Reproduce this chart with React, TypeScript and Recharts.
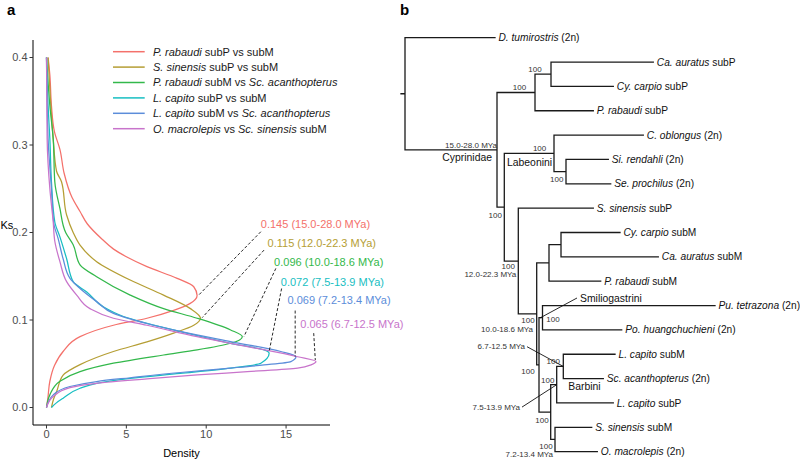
import React from 'react';
import { ComposedChart, Line, XAxis, YAxis, Scatter, Legend } from 'recharts';

const FONT = '"Liberation Sans", Arial, Helvetica, sans-serif';

// ---------------- Panel a : Ks density ----------------
const densityTicks = [0, 5, 10, 15];
const ksTicks = [0, 0.1, 0.2, 0.3, 0.4];

const seriesNames = [
  'P. rabaudi subP vs subM',
  'S. sinensis subP vs subM',
  'P. rabaudi subM vs Sc. acanthopterus',
  'L. capito subP vs subM',
  'L. capito subM vs Sc. acanthopterus',
  'O. macrolepis vs Sc. sinensis subM',
];
const seriesLegendParts: [string, boolean][][] = [
  [['P. rabaudi', true], [' subP vs subM', false]],
  [['S. sinensis', true], [' subP vs subM', false]],
  [['P. rabaudi', true], [' subM vs ', false], ['Sc. acanthopterus', true]],
  [['L. capito', true], [' subP vs subM', false]],
  [['L. capito', true], [' subM vs ', false], ['Sc. acanthopterus', true]],
  [['O. macrolepis', true], [' vs ', false], ['Sc. sinensis', true], [' subM', false]],
];
const seriesColors = ['#F4716B', '#B59E34', '#33B84B', '#17BEC2', '#5C8DDA', '#C874CB'];

// [density, Ks] pairs, ordered by Ks
const densityRabaudiP: [number, number][] = [
  [0, 0], [0.08, 0.01], [0.21, 0.03], [0.5, 0.048], [1.04, 0.064], [2.1, 0.081], [4.19, 0.094],
  [6.29, 0.102], [7.96, 0.111], [9.0, 0.119], [9.43, 0.128], [9.22, 0.138], [8.18, 0.1476],
  [6.29, 0.161], [5.03, 0.172], [4.2, 0.181], [3.5, 0.192], [2.55, 0.21], [2.1, 0.224],
  [1.6, 0.24], [1.1, 0.268], [0.84, 0.295], [0.5, 0.315], [0.31, 0.345], [0.21, 0.38], [0.1, 0.4],
];
const densitySinensisP: [number, number][] = [
  [0.31, 0], [0.45, 0.01], [0.63, 0.018], [1.04, 0.037], [2.1, 0.049], [4.19, 0.064], [6.29, 0.075],
  [7.96, 0.085], [9.22, 0.094], [9.64, 0.102], [9.01, 0.113], [7.33, 0.1285], [5.24, 0.1457],
  [3.14, 0.1667], [2.1, 0.1856], [1.67, 0.2], [1.26, 0.22], [0.94, 0.258], [0.63, 0.27],
  [0.42, 0.307], [0.21, 0.364], [0.1, 0.4],
];
const densityRabaudiM: [number, number][] = [
  [0, 0], [0.21, 0.0144], [0.84, 0.03], [2.1, 0.041], [4.19, 0.0506], [7.33, 0.06], [9.43, 0.0658],
  [11.53, 0.0734], [12.26, 0.081], [11.53, 0.0886], [9.43, 0.102], [7.33, 0.113], [5.24, 0.1285],
  [3.14, 0.1495], [2.1, 0.163], [1.67, 0.186], [1.2, 0.2], [0.84, 0.2275], [0.52, 0.258],
  [0.42, 0.307], [0.21, 0.345], [0, 0.4],
];
const densityCapitoP: [number, number][] = [
  [0.31, 0], [0.6, 0.005], [1.04, 0.0106], [2.1, 0.022], [3.14, 0.0277], [5.24, 0.0334], [8.38, 0.039],
  [11.53, 0.045], [13.42, 0.0506], [13.94, 0.062], [13.62, 0.0658], [11.53, 0.0734], [8.38, 0.0868],
  [6.29, 0.0962], [4.82, 0.104], [3.56, 0.115], [2.52, 0.132], [1.67, 0.1438], [1.26, 0.17],
  [0.84, 0.195], [0.52, 0.212], [0.31, 0.258], [0.21, 0.307], [0.1, 0.345], [0, 0.4],
];
const densityCapitoM: [number, number][] = [
  [0, 0], [0.42, 0.0144], [1.47, 0.024], [3.14, 0.0297], [5.24, 0.034], [8.38, 0.04], [11.53, 0.045],
  [13.62, 0.0486], [15.3, 0.0525], [15.62, 0.058], [14.67, 0.064], [11.53, 0.0753], [8.38, 0.087],
  [6.29, 0.096], [4.19, 0.1076], [3.14, 0.121], [2.1, 0.136], [1.47, 0.1476], [1.04, 0.17],
  [0.73, 0.193], [0.46, 0.21], [0.31, 0.25], [0.1, 0.307], [0, 0.4],
];
const densityMacrolepis: [number, number][] = [
  [0, 0], [0.42, 0.0125], [1.47, 0.0227], [3.14, 0.0277], [6.29, 0.0327], [9.43, 0.0372], [12.58, 0.041],
  [15.72, 0.045], [16.6, 0.049], [16.87, 0.0525], [15.72, 0.058], [12.58, 0.0696], [9.43, 0.081],
  [6.29, 0.094], [4.19, 0.102], [2.72, 0.113], [1.89, 0.1285], [1.26, 0.1438], [0.84, 0.1667],
  [0.52, 0.19], [0.42, 0.212], [0.21, 0.25], [0.04, 0.307], [0, 0.4],
];
const seriesCurves = [densityRabaudiP, densitySinensisP, densityRabaudiM, densityCapitoP, densityCapitoM, densityMacrolepis];

const peakLabels = [
  '0.145 (15.0-28.0 MYa)',
  '0.115 (12.0-22.3 MYa)',
  '0.096 (10.0-18.6 MYa)',
  '0.072 (7.5-13.9 MYa)',
  '0.069 (7.2-13.4 MYa)',
  '0.065 (6.7-12.5 MYa)',
];
// annotation anchors in data units [density, Ks]
const peakLabelAt: [number, number][] = [
  [13.42, 0.2092], [13.84, 0.1876], [14.25, 0.166], [14.67, 0.1438], [15.09, 0.1225], [15.89, 0.0951],
];
const peakLeaderFrom: [number, number][] = [
  [13.42, 0.2009], [13.62, 0.1799], [14.36, 0.159], [14.72, 0.136], [15.57, 0.1108], [16.73, 0.085],
];
const peakLeaderTo: [number, number][] = [
  [9.53, 0.1285], [9.75, 0.1027], [12.36, 0.081], [13.94, 0.0639], [15.57, 0.0582], [16.83, 0.0543],
];

const toXY = (pts: [number, number][]) => pts.map(([x, y]) => ({ x, y }));

const PeakText = (props: any) => {
  const { cx, cy, payload } = props;
  if (cx == null || cy == null) return null;
  return (
    <text x={cx} y={cy} dy="0.35em" fill={payload.color} fontSize={11} fontFamily={FONT}>
      {payload.label}
    </text>
  );
};

function LegendBox() {
  return (
    <svg width={250} height={100} style={{ display: 'block', overflow: 'visible' }}>
      {seriesLegendParts.map((parts, i) => {
        const y = 9.7 + 15.4 * i;
        return (
          <g key={i}>
            <line x1={8} x2={39.7} y1={y} y2={y} stroke={seriesColors[i]} strokeWidth={1.5} />
            <text x={48} y={y} dy="0.35em" fontSize={11} fontFamily={FONT} fill="#1a1a1a" style={{ whiteSpace: 'pre' }}>
              {parts.map(([t, it], j) => (
                <tspan key={j} fontStyle={it ? 'italic' : 'normal'}>{t}</tspan>
              ))}
            </text>
          </g>
        );
      })}
    </svg>
  );
}

function PanelA() {
  const labelData = peakLabels.map((label, i) => ({
    x: peakLabelAt[i][0],
    y: peakLabelAt[i][1],
    label,
    color: seriesColors[i],
  }));
  const tickStyle = { fill: '#4d4d4d', fontSize: 11, fontFamily: FONT };
  return (
    <ComposedChart width={410} height={460} margin={{ top: 40, right: 80, bottom: 0, left: 0 }} style={{ overflow: 'visible' }}>
      <XAxis
        type="number"
        dataKey="x"
        domain={[-0.845, 17.75]}
        ticks={densityTicks}
        height={35}
        tickSize={3.5}
        tickMargin={2}
        axisLine={{ stroke: '#000', strokeWidth: 1 }}
        tickLine={{ stroke: '#333', strokeWidth: 1 }}
        tick={tickStyle}
        label={{ value: 'Density', position: 'insideBottom', offset: 3, fill: '#000', fontSize: 11, fontFamily: FONT }}
      />
      <YAxis
        type="number"
        dataKey="y"
        domain={[-0.02, 0.42]}
        ticks={ksTicks}
        width={33}
        tickSize={3.5}
        tickMargin={2}
        axisLine={{ stroke: '#000', strokeWidth: 1 }}
        tickLine={{ stroke: '#333', strokeWidth: 1 }}
        tick={tickStyle}
        tickFormatter={(v: number) => v.toFixed(1)}
        label={{ value: 'Ks', position: 'insideLeft', offset: 0.5, dy: -7, fill: '#000', fontSize: 11, fontFamily: FONT }}
      />
      {seriesCurves.map((c, i) => (
        <Line
          key={'c' + i}
          data={toXY(c)}
          dataKey="y"
          name={seriesNames[i]}
          type="monotoneY"
          stroke={seriesColors[i]}
          strokeWidth={1.25}
          dot={false}
          activeDot={false}
          isAnimationActive={false}
        />
      ))}
      {peakLeaderFrom.map((f, i) => (
        <Line
          key={'l' + i}
          data={[{ x: f[0], y: f[1] }, { x: peakLeaderTo[i][0], y: peakLeaderTo[i][1] }]}
          dataKey="y"
          type="linear"
          stroke="#111"
          strokeWidth={0.9}
          strokeDasharray="3 2"
          dot={false}
          activeDot={false}
          legendType="none"
          isAnimationActive={false}
        />
      ))}
      <Scatter data={labelData} shape={PeakText} legendType="none" isAnimationActive={false} />
      <Legend
        layout="vertical"
        align="center"
        verticalAlign="middle"
        wrapperStyle={{ left: 105, top: 42, width: 250, height: 100 }}
        content={() => <LegendBox />}
      />
    </ComposedChart>
  );
}

// ---------------- Panel b : phylogeny ----------------
const tipItalic = [
  'D. tumirostris', 'Ca. auratus', 'Cy. carpio', 'P. rabaudi', 'C. oblongus', 'Si. rendahli',
  'Se. prochilus', 'S. sinensis', 'Cy. carpio', 'Ca. auratus', 'P. rabaudi', 'Pu. tetrazona',
  'Po. huangchuchieni', 'L. capito', 'Sc. acanthopterus', 'L. capito', 'S. sinensis', 'O. macrolepis',
];
const tipSuffix = [
  ' (2n)', ' subP', ' subP', ' subP', ' (2n)', ' (2n)',
  ' (2n)', ' subP', ' subM', ' subM', ' subM', ' (2n)',
  ' (2n)', ' subM', ' (2n)', ' subP', ' subM', ' (2n)',
];
// horizontal position of each tip (tree depth units)
const tipDepth = [95, 253.3, 213.3, 193.3, 243.3, 208.3, 210.7, 193.3, 220, 258.3, 200.7, 315, 221.7, 215, 203.3, 213.3, 191.7, 197.3];

const nodeIds = ['root', 'C1', 'A', 'A2', 'B', 'Lab', 'SS', 'D', 'E', 'F', 'F2', 'K', 'Smi', 'I', 'H', 'Bar', 'J'];
const nodeDepth = [5, 97, 135, 151, 104.3, 154, 166, 118.3, 136.7, 149, 161, 139, 142.5, 150.7, 156.7, 163.3, 155];
const nodeChildren = [
  ['t0', 'C1'], ['A', 'B'], ['A2', 't3'], ['t1', 't2'], ['Lab', 'D'], ['t4', 'SS'], ['t5', 't6'],
  ['t7', 'E'], ['F', 'K'], ['F2', 't10'], ['t8', 't9'], ['Smi', 'I'], ['t11', 't12'], ['H', 'J'],
  ['Bar', 't15'], ['t13', 't14'], ['t16', 't17'],
];
const rootStubDepth = 1;

const supportNodes = ['A2', 'A', 'Lab', 'SS', 'B', 'D', 'E', 'Smi', 'K', 'Bar', 'H', 'I', 'J'];
const supportValues = ['100', '100', '100', '100', '100', '100', '100', '100', '100', '100', '100', '100', '100'];
const dateNodes = ['C1', 'D', 'E', 'J'];
const dateValues = ['15.0-28.0 MYa', '12.0-22.3 MYa', '10.0-18.6 MYa', '7.2-13.4 MYa'];
const cladeNodes = ['C1', 'Lab', 'Bar'];
const cladeNames = ['Cyprinidae', 'Labeonini', 'Barbini'];
// pointer annotations: [from depth, from tip-row], target node
const pointerTexts = ['Smiliogastrini', '6.7-12.5 MYa', '7.5-13.9 MYa'];
const pointerFrom: [number, number][] = [[177, 10.69], [127, 12.69], [122, 15.17]];
const pointerTo: (string | [number, number])[] = [[140, 11.51], 'Bar', 'H'];

// layout offsets (px) for text relative to node
const supportOffset: Record<string, [number, number]> = {
  A2: [-16, -5], A: [-15.5, -5.6], Lab: [-14.4, -5], SS: [-9.3, 7.4], B: [-9, 7.7], D: [-10, 5],
  E: [-8.7, 6.6], Smi: [10.5, 1.5], K: [-11, 6.7], Bar: [-10, -5.5], H: [-9, -4.7], I: [-8.7, 7.8], J: [-9, 7],
};
const dateOffset: Record<string, [number, number]> = { C1: [0, -4.5], D: [-2, 13], E: [-3.7, 14.8], J: [-2, 14.5] };
const cladeOffset: Record<string, [number, number, string]> = {
  C1: [-5, 8, 'end'], Lab: [-47, 8.6, 'start'], Bar: [5, 20, 'start'],
};
const pointerTextStyle: [number, string, number][] = [[3, 'start', 10.4], [-2, 'end', 8], [-2, 'end', 8]];

function buildTree() {
  const pos: Record<string, { x: number; y: number }> = {};
  tipDepth.forEach((d, i) => (pos['t' + i] = { x: d, y: i }));
  const idx: Record<string, number> = {};
  nodeIds.forEach((id, i) => (idx[id] = i));
  const place = (id: string): number => {
    if (pos[id]) return pos[id].y;
    const i = idx[id];
    const kids = nodeChildren[i];
    const ys = kids.map(place);
    const y = (ys[0] + ys[ys.length - 1]) / 2;
    pos[id] = { x: nodeDepth[i], y };
    return y;
  };
  place('root');
  const path: { x: number; y: number | null }[] = [];
  const rp = pos['root'];
  path.push({ x: rootStubDepth, y: rp.y }, { x: rp.x, y: rp.y }, { x: rp.x, y: null });
  nodeIds.forEach((id, i) => {
    const p = pos[id];
    const kids = nodeChildren[i];
    const first = pos[kids[0]];
    const last = pos[kids[kids.length - 1]];
    path.push({ x: p.x, y: first.y }, { x: p.x, y: last.y }, { x: p.x, y: null });
    kids.forEach((k) => {
      const c = pos[k];
      path.push({ x: p.x, y: c.y }, { x: c.x, y: c.y }, { x: c.x, y: null });
    });
  });
  return { pos, path };
}

const TreeText = (props: any) => {
  const { cx, cy, payload } = props;
  if (cx == null || cy == null) return null;
  return (
    <text
      x={cx + payload.dx}
      y={cy + payload.dy}
      dy="0.35em"
      textAnchor={payload.anchor}
      fontSize={payload.size}
      fill={payload.color}
      fontFamily={FONT}
      style={{ whiteSpace: 'pre' }}
    >
      {payload.italic ? <tspan fontStyle="italic">{payload.italic}</tspan> : null}
      {payload.text ? <tspan>{payload.text}</tspan> : null}
    </text>
  );
};

function PanelB() {
  const { pos, path } = buildTree();
  const tipLabels = tipItalic.map((it, i) => ({
    x: tipDepth[i], y: i, italic: it, text: tipSuffix[i], dx: 3.5, dy: 0, anchor: 'start', size: 10.2, color: '#111',
  }));
  const supportLabels = supportNodes.map((n, i) => ({
    x: pos[n].x, y: pos[n].y, text: supportValues[i], dx: supportOffset[n][0], dy: supportOffset[n][1],
    anchor: 'middle', size: 8, color: '#333',
  }));
  const dateLabels = dateNodes.map((n, i) => ({
    x: pos[n].x, y: pos[n].y, text: dateValues[i], dx: dateOffset[n][0], dy: dateOffset[n][1],
    anchor: 'end', size: 8, color: '#333',
  }));
  const cladeLabels = cladeNodes.map((n, i) => ({
    x: pos[n].x, y: pos[n].y, text: cladeNames[i], dx: cladeOffset[n][0], dy: cladeOffset[n][1],
    anchor: cladeOffset[n][2], size: 10.4, color: '#111',
  }));
  const pointerLabels = pointerTexts.map((t, i) => ({
    x: pointerFrom[i][0], y: pointerFrom[i][1], text: t, dx: pointerTextStyle[i][0], dy: 0,
    anchor: pointerTextStyle[i][1], size: pointerTextStyle[i][2], color: i === 0 ? '#111' : '#333',
  }));
  const pointerLines = pointerFrom.map((f, i) => {
    const t = pointerTo[i];
    const to = typeof t === 'string' ? pos[t] : { x: t[0], y: t[1] };
    return [{ x: f[0], y: f[1] }, { x: to.x, y: to.y }];
  });
  const allText = [...tipLabels, ...supportLabels, ...dateLabels, ...cladeLabels, ...pointerLabels];
  return (
    <ComposedChart width={400} height={460} margin={{ top: 0, right: 0, bottom: 0, left: 0 }}>
      <XAxis type="number" dataKey="x" domain={[0, 400]} hide />
      <YAxis type="number" dataKey="y" domain={[-1.548, 17.343]} reversed hide />
      <Line
        data={path}
        dataKey="y"
        type="linear"
        stroke="#1a1a1a"
        strokeWidth={1.3}
        strokeLinecap="square"
        dot={false}
        activeDot={false}
        connectNulls={false}
        isAnimationActive={false}
      />
      {pointerLines.map((d, i) => (
        <Line
          key={'p' + i}
          data={d}
          dataKey="y"
          type="linear"
          stroke="#111"
          strokeWidth={0.9}
          dot={false}
          activeDot={false}
          isAnimationActive={false}
        />
      ))}
      <Scatter data={allText} shape={TreeText} isAnimationActive={false} />
    </ComposedChart>
  );
}

export default function App() {
  const letter: React.CSSProperties = {
    position: 'absolute', fontFamily: FONT, fontWeight: 'bold', fontSize: 15, lineHeight: '15px', color: '#000',
  };
  return (
    <div style={{ position: 'absolute', left: 0, top: 0, width: 800, height: 460, background: '#fff', overflow: 'hidden' }}>
      <div style={{ position: 'absolute', left: 0, top: 0 }}>
        <PanelA />
      </div>
      <div style={{ position: 'absolute', left: 400, top: 0 }}>
        <PanelB />
      </div>
      <div style={{ ...letter, left: 7, top: 2 }}>a</div>
      <div style={{ ...letter, left: 400, top: 2 }}>b</div>
    </div>
  );
}
